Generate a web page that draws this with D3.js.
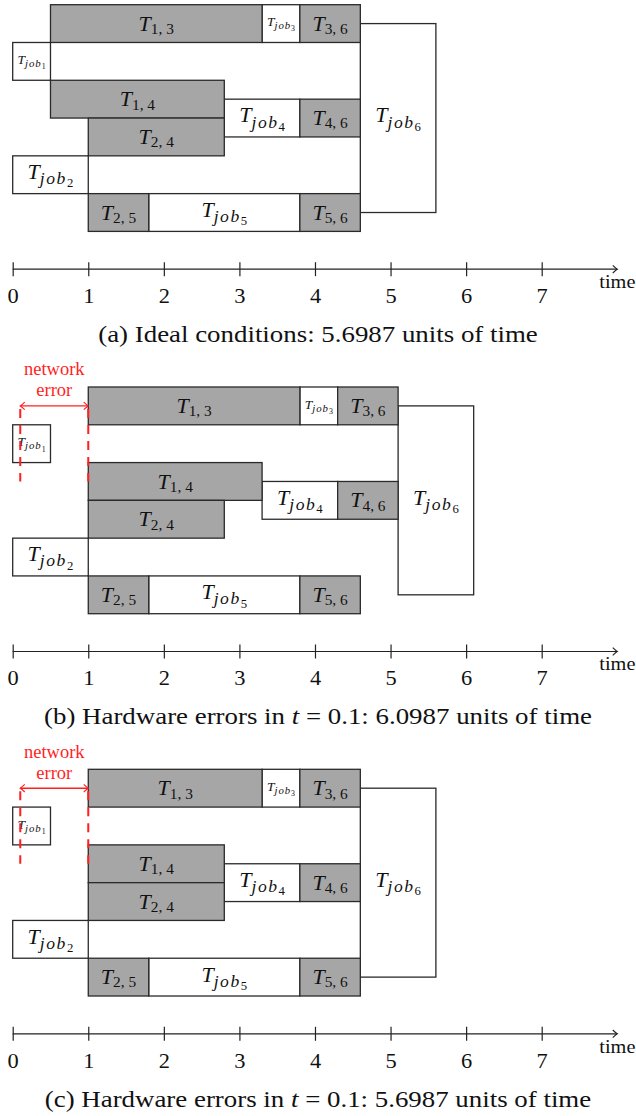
<!DOCTYPE html>
<html><head><meta charset="utf-8">
<script src="https://cdn.jsdelivr.net/npm/d3@7"></script>
<style>body{margin:0;background:#fff}</style>
</head><body><svg id="chart" width="636" height="1116" xmlns="http://www.w3.org/2000/svg"></svg>
<script>
// ---------- data ----------
const taskLabels = ["1,3","job3","3,6","job1","1,4","job4","4,6","2,4","job2","2,5","job5","5,6","job6"];
const taskKinds  = ["transfer","job","transfer","job","transfer","job","transfer","transfer","job","transfer","job","transfer","job"];
const taskLanes  = [0,0,0,1,2,2.5,2.5,3,4,5,5,5,0.5];
const taskSpans  = [1,1,1,1,1,1,1,1,1,1,1,1,5];

const startsA = [0.5,3.3,3.8,0,0.5,2.8,3.8,1,0,1,1.8,3.8,4.6];
const endsA   = [3.3,3.8,4.6,0.5,2.8,3.8,4.6,2.8,1,1.8,3.8,4.6,5.6];
const startsB = [1,3.8,4.3,0,1,3.3,4.3,1,0,1,1.8,3.8,5.1];
const endsB   = [3.8,4.3,5.1,0.5,3.3,4.3,5.1,2.8,1,1.8,3.8,4.6,6.1];
const startsC = [1,3.3,3.8,0,1,2.8,3.8,1,0,1,1.8,3.8,4.6];
const endsC   = [3.3,3.8,4.6,0.5,2.8,3.8,4.6,2.8,1,1.8,3.8,4.6,5.6];

const captions = [
  "(a) Ideal conditions: 5.6987 units of time",
  "(b) Hardware errors in t = 0.1: 6.0987 units of time",
  "(c) Hardware errors in t = 0.1: 5.6987 units of time"
];
const errorStarts = [null, 0.1, 0.1];
const errorEnds   = [null, 1.0, 1.0];
const errorText = ["network", "error"];

const axisTicks = [0,1,2,3,4,5,6,7];
const axisMax = 8;
const axisLabel = "time";

// ---------- drawing ----------
const panels = [[startsA, endsA], [startsB, endsB], [startsC, endsC]];
const svg = d3.select("#chart");
const unit = 75.57;
const x = d3.scaleLinear().domain([0, 8]).range([12.7, 12.7 + 8 * unit]);
const FONT = "'Liberation Serif', 'Times New Roman', serif";
const STROKE = "#2a2a2a";
const RED = "#ff1f1f";

const defs = svg.append("defs");
function arrowMarker(id, color, rev) {
  defs.append("marker").attr("id", id)
    .attr("markerUnits", "userSpaceOnUse")
    .attr("viewBox", "-6 -5 8 10").attr("markerWidth", 8).attr("markerHeight", 10)
    .attr("refX", 0).attr("refY", 0).attr("orient", rev ? "auto-start-reverse" : "auto")
    .append("path").attr("d", "M-4.5,-3.8 Q-1.2,-0.6 0,0 Q-1.2,0.6 -4.5,3.8")
    .attr("fill", "none").attr("stroke", color).attr("stroke-width", 1.1);
}
arrowMarker("arrowK", "#222", false);
arrowMarker("arrowR", RED, true);

function addLabel(g, lab, cx, cy, size) {
  const t = g.append("text").attr("x", cx).attr("text-anchor", "middle")
    .attr("font-family", FONT).attr("fill", "#111");
  if (lab.startsWith("job")) {
    t.attr("y", cy + 0.2 * size);
    t.append("tspan").attr("font-style", "italic").attr("font-size", size).text("T");
    t.append("tspan").attr("font-style", "italic").attr("font-size", size * 0.8)
      .attr("letter-spacing", size * 0.07).attr("dy", 0.23 * size).text("job");
    t.append("tspan").attr("font-size", size * 0.58).attr("dy", 0.15 * size).text(lab.slice(3));
  } else {
    t.attr("y", cy + 0.32 * size);
    t.append("tspan").attr("font-style", "italic").attr("font-size", size).text("T");
    t.append("tspan").attr("font-size", size * 0.7).attr("dy", 0.15 * size)
      .text(lab.replace(",", ", "));
  }
}

panels.forEach(([starts, ends], i) => {
  const top = 4.7 + i * 382.3;
  const y = d3.scaleLinear().domain([0, 7]).range([top, top + 7 * unit / 2]);
  const g = svg.append("g");
  const idx = d3.range(taskLabels.length);
  const order = idx.filter(k => taskKinds[k] === "job").concat(idx.filter(k => taskKinds[k] !== "job"));
  order.forEach(k => {
    const x0 = x(starts[k]), x1 = x(ends[k]);
    const y0 = y(taskLanes[k]), y1 = y(taskLanes[k] + taskSpans[k]);
    g.append("rect").attr("x", x0).attr("y", y0).attr("width", x1 - x0).attr("height", y1 - y0)
      .attr("fill", taskKinds[k] === "job" ? "#ffffff" : "#a6a6a6")
      .attr("stroke", STROKE).attr("stroke-width", 1.3);
  });
  order.forEach(k => {
    const x0 = x(starts[k]), x1 = x(ends[k]);
    const y0 = y(taskLanes[k]), y1 = y(taskLanes[k] + taskSpans[k]);
    const narrow = (ends[k] - starts[k]) < 0.6;
    addLabel(g, taskLabels[k], (x0 + x1) / 2, (y0 + y1) / 2, narrow ? 13.5 : 22);
  });

  // axis
  const axisY = y(7);
  const axis = d3.axisBottom(x).tickValues(axisTicks).tickSizeOuter(0).tickSize(7).tickFormat(d3.format("d"));
  const ag = g.append("g").attr("transform", `translate(0,${axisY})`).call(axis);
  ag.attr("font-family", FONT).attr("font-size", 20);
  ag.select(".domain").remove();
  ag.append("line").attr("x1", x(0)).attr("x2", x(axisMax)).attr("y1", 0).attr("y2", 0)
    .attr("stroke", "#222").attr("stroke-width", 1.2).attr("marker-end", "url(#arrowK)");
  ag.selectAll(".tick line").attr("y1", -7).attr("y2", 7).attr("stroke", "#222").attr("stroke-width", 1.2);
  ag.selectAll(".tick text").attr("y", 34).attr("dy", null).attr("fill", "#111")
    .attr("transform", "scale(1.12,1)");
  g.append("g").attr("transform", `translate(599.3,${axisY + 19}) scale(1.07,1)`)
    .append("text").attr("font-family", FONT)
    .attr("font-size", 19).attr("fill", "#111").text(axisLabel);

  // caption
  const cap = g.append("g").attr("transform", `translate(318,${axisY + 73}) scale(1.12,1)`)
    .append("text").attr("text-anchor", "middle")
    .attr("font-family", FONT).attr("font-size", 24).attr("fill", "#111");
  captions[i].split(/(?<= )(t)(?= =)/).forEach(part => {
    const ts = cap.append("tspan").text(part);
    if (part === "t") ts.attr("font-style", "italic");
  });

  // network error annotation
  if (errorStarts[i] !== null) {
    const ay = y(0.5);
    const xa = x(errorStarts[i]), xb = x(errorEnds[i]);
    [xa, xb].forEach(xx => {
      g.append("line").attr("x1", xx).attr("x2", xx).attr("y1", ay).attr("y2", y(2.5))
        .attr("stroke", RED).attr("stroke-width", 2)
        .attr("stroke-dasharray", "9,7").attr("stroke-dashoffset", 13);
    });
    g.append("line").attr("x1", xa).attr("x2", xb).attr("y1", ay).attr("y2", ay)
      .attr("stroke", RED).attr("stroke-width", 1.4)
      .attr("marker-start", "url(#arrowR)").attr("marker-end", "url(#arrowR)");
    errorText.forEach((t, j) => {
      g.append("text").attr("x", (xa + xb) / 2).attr("y", ay - 30.5 + j * 21)
        .attr("text-anchor", "middle").attr("font-family", FONT).attr("font-size", 18.5)
        .attr("fill", RED).text(t);
    });
  }
});
</script>
</body></html>
